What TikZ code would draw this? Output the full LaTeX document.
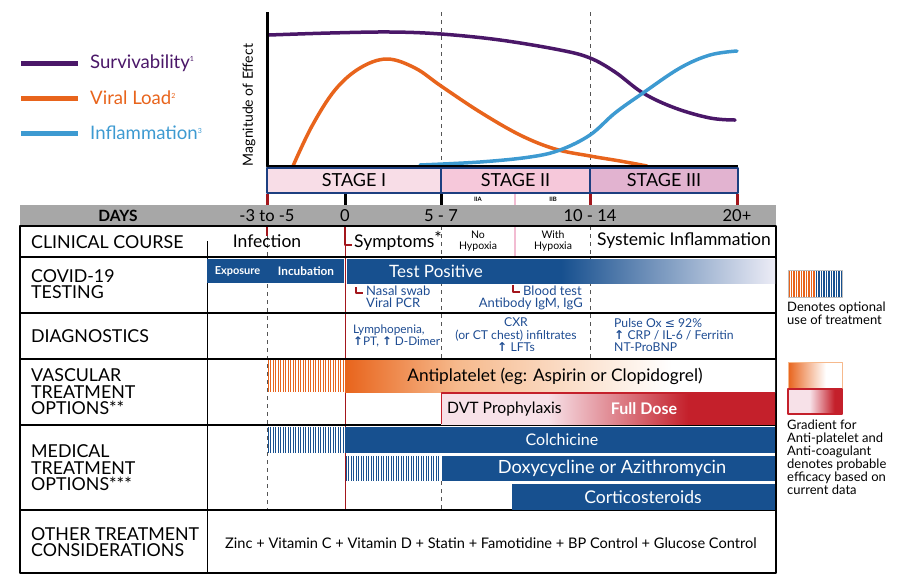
\documentclass[tikz,border=0pt]{standalone}
\usepackage{fontspec}
\setmainfont{Lato}
\newfontfamily\symfont{DejaVu Sans}
\usetikzlibrary{positioning}
\definecolor{survpurple}{HTML}{4A1768}
\definecolor{viralorange}{HTML}{E8641C}
\definecolor{inflblue}{HTML}{3D9AD1}
\definecolor{barblue}{HTML}{17508F}
\definecolor{textblue}{HTML}{1E4C92}
\definecolor{markred}{HTML}{A3161C}
\definecolor{dvtred}{HTML}{C4202B}
\definecolor{dvtpink}{HTML}{F7E1E8}
\definecolor{stageone}{HTML}{F8DDE7}
\definecolor{stagetwo}{HTML}{F6C8DA}
\definecolor{stagethree}{HTML}{E2B3D0}
\definecolor{stageline}{HTML}{1D3F80}
\definecolor{daygray}{HTML}{A7A7A7}
\definecolor{dashgray}{HTML}{555555}
\definecolor{splitpink}{HTML}{F2BCD2}
\definecolor{fadeend}{HTML}{ECECF6}
\definecolor{peach}{HTML}{F6B98C}
\pgfdeclarehorizontalshading{testfade}{100bp}{color(0bp)=(barblue); color(25bp)=(barblue); color(50bp)=(barblue); color(75bp)=(fadeend); color(100bp)=(fadeend)}
\pgfdeclarehorizontalshading{plateletfade}{100bp}{color(0bp)=(viralorange); color(25bp)=(viralorange); color(38bp)=(peach); color(63bp)=(white); color(100bp)=(white)}
\pgfdeclarehorizontalshading{dosefade}{100bp}{color(0bp)=(dvtpink); color(25bp)=(dvtpink); color(41bp)=(dvtpink); color(62bp)=(dvtred); color(100bp)=(dvtred)}
\pgfdeclarehorizontalshading{keyorange}{100bp}{color(0bp)=(viralorange); color(25bp)=(viralorange); color(60bp)=(white); color(100bp)=(white)}
\pgfdeclarehorizontalshading{keyred}{100bp}{color(0bp)=(dvtpink); color(25bp)=(dvtpink); color(45bp)=(dvtpink); color(68bp)=(dvtred); color(100bp)=(dvtred)}
\begin{document}
\begin{tikzpicture}[x=1pt, y=-1pt, line join=round,
  stagebox/.style={draw=stageline, line width=2.2pt},
  stagetext/.style={inner sep=0, font=\fontsize{18}{18}\selectfont},
  daynum/.style={inner sep=0, font=\fontsize{16.5}{16.5}\selectfont},
  rowlabel/.style={anchor=west, align=left, inner sep=0, font=\fontsize{17.8}{16.6}\selectfont},
  course/.style={inner sep=0, font=\fontsize{17.5}{17.5}\selectfont},
  hypoxia/.style={inner sep=0, align=center, font=\fontsize{10.5}{10.5}\selectfont},
  bartext/.style={inner sep=0, text=white, font=\fontsize{16}{16}\selectfont},
  note/.style={inner sep=0, text=textblue, font=\fontsize{12.2}{12.4}\selectfont},
  keytext/.style={anchor=north west, inner sep=0, align=left, font=\fontsize{13}{12.9}\selectfont},
  rowline/.style={line width=2pt},
  phasedash/.style={dashgray, line width=1pt, dash pattern=on 4pt off 4pt},
  markL/.style={markred, line width=2.5pt},
  effect/.style={line width=3.5pt, line cap=round}]
\useasboundingbox (0,0) rectangle (900,587);
\foreach \y/\c/\t/\k/\n in {63/survpurple/Survivability/1/surv, 98/viralorange/Viral Load/2/viral, 133/inflblue/Inflammation/3/infl}{
  \draw[\c, line width=5pt] (21,\y) -- (78,\y);
  \node[anchor=west, inner sep=0, text=\c, font=\fontsize{18.6}{18.6}\selectfont] (\n) at (90,\y) {\t\textsuperscript{\fontsize{7}{7}\selectfont\k}};
}
\node[rotate=90, inner sep=0, font=\fontsize{14}{14}\selectfont] (magn) at (249,105) {Magnitude of Effect};
\draw[phasedash] (441,12) -- (441,166) (590,12) -- (590,166);
\draw[effect, survpurple] plot[smooth, tension=0.6] coordinates {(269,35) (330,33) (390,32) (441,34) (500,40) (560,50) (590,58) (615,72) (643,93) (675,108) (710,118) (735,120)};
\draw[effect, viralorange] plot[smooth, tension=0.6] coordinates {(293,166) (312,126) (335,90) (360,68) (387,59) (415,68) (441,86) (480,112) (520,135) (555,149) (590,156) (620,161) (647,166)};
\draw[effect, inflblue] plot[smooth, tension=0.6] coordinates {(420,165) (480,162) (530,157) (560,150) (590,135) (615,113) (643,93) (680,68) (710,55) (737,51)};
\draw[line width=3pt] (267,12) -- (267,166) -- (738,166);
\foreach \xa/\xb/\fc/\t/\n in {267/441/stageone/I/s1, 441/590/stagetwo/II/s2, 590/738/stagethree/III/s3}{
  \draw[stagebox, fill=\fc] (\xa,168) rectangle (\xb,193);
  \node[stagetext] (\n) at ({(\xa+\xb)/2},180.5) {STAGE \t};
}
\foreach \x/\c in {267/markred, 345/black, 441/black, 590/markred, 737/markred}
  \draw[\c, line width=3pt] (\x,194) -- (\x,205);
\node[inner sep=0, font=\bfseries\fontsize{6}{6}\selectfont] (iia) at (478,199.5) {IIA};
\node[inner sep=0, font=\bfseries\fontsize{6}{6}\selectfont] (iib) at (553,199.5) {IIB};
\draw[splitpink, line width=2pt] (515,194) -- (515,205) (515,226) -- (515,257);
\fill[daygray] (20,205) rectangle (776,226);
\node[inner sep=0, font=\bfseries\fontsize{15.5}{15.5}\selectfont] (days) at (118,216) {DAYS};
\foreach \x/\t/\n in {267/{-3 to -5}/dminus, 345/0/dzero, 441/{5 - 7}/dfive, 590/{10 - 14}/dten, 737/{20+}/dtwenty}
  \node[daynum] (\n) at (\x,216) {\t};
\draw[phasedash] (267,236) -- (267,510) (441,226) -- (441,359) (441,481) -- (441,510) (590,226) -- (590,359);
\draw[markred, line width=2.5pt] (267,226) -- (267,236);
\draw[markL] (345,226) |- (352,245);
\draw[markred, line width=0.8pt] (345,245) -- (345,510);
\draw[line width=1pt] (207,241) -- (207,573);
\foreach \y in {257,313,359,425,510} \draw[rowline] (20,\y) -- (776,\y);
\draw[rowline] (20,226) rectangle (776,573);
\node[rowlabel] (clin) at (31,242) {CLINICAL COURSE};
\node[course] (infect) at (267,241) {Infection};
\node[course, anchor=west] (sympt) at (354,241) {Symptoms\raisebox{3pt}{*}};
\node[hypoxia] (nohyp) at (478,241) {No\\Hypoxia};
\node[hypoxia] (withhyp) at (553,241) {With\\Hypoxia};
\node[course] (system) at (684,241) {Systemic Inflammation};
\node[rowlabel] (testing) at (31,284) {COVID-19\\TESTING};
\fill[barblue] (207,259) rectangle (344,283);
\node[inner sep=0, text=white, font=\bfseries\fontsize{11}{11}\selectfont] (expo) at (237.5,271) {Exposure};
\node[inner sep=0, text=white, font=\bfseries\fontsize{11.8}{11.8}\selectfont] (incub) at (306,271) {Incubation};
\shade[shading=testfade] (347,259) rectangle (775,283);
\node[bartext, font=\fontsize{17}{17}\selectfont] (testpos) at (436,271) {Test Positive};
\draw[markL] (356,287) |- (363,293);
\node[note, anchor=north west, align=left, font=\fontsize{13}{12}\selectfont] (nasal) at (366,286) {Nasal swab\\Viral PCR};
\draw[markL] (513,285) |- (520,292);
\node[note, anchor=west, font=\fontsize{13}{13}\selectfont] (blood) at (523,291) {Blood test};
\node[note, anchor=east, font=\fontsize{13}{13}\selectfont] (antib) at (583,304) {Antibody IgM, IgG};
\node[rowlabel] (diag) at (31,336) {DIAGNOSTICS};
\node[note, anchor=west, align=left, font=\fontsize{11.8}{12}\selectfont] (lympho) at (353,336) {Lymphopenia,\\{\symfont\bfseries↑}PT, {\symfont\bfseries↑} D-Dimer};
\node[note, align=center] (cxr) at (516,335) {CXR\\(or CT chest) infiltrates\\{\symfont\bfseries↑} LFTs};
\node[note, anchor=west, align=left] (pulse) at (614,335) {Pulse Ox {\symfont≤} 92\%\\{\symfont\bfseries↑} CRP / IL-6 / Ferritin\\NT-ProBNP};
\node[rowlabel] (vasc) at (31,392) {VASCULAR\\TREATMENT\\OPTIONS**};
\foreach \x in {268.2,270.7,...,345} \draw[viralorange, line width=1.2pt] (\x,360) -- (\x,392);
\shade[shading=plateletfade] (345,360) rectangle (775,392);
\node[bartext, text=black, font=\fontsize{17.3}{17.3}\selectfont] (platelet) at (555,376) {Antiplatelet (eg: Aspirin or Clopidogrel)};
\shade[shading=dosefade] (441,393) rectangle (775,424);
\draw[dvtred, line width=1.5pt] (775,393) -- (441.7,393) -- (441.7,424);
\node[bartext, text=black, anchor=west, font=\fontsize{15.7}{15.7}\selectfont] (dvt) at (447,409) {DVT Prophylaxis};
\node[bartext, font=\bfseries\fontsize{16}{16}\selectfont] (fulldose) at (644,409) {Full Dose};
\node[rowlabel] (medic) at (31,468) {MEDICAL\\TREATMENT\\OPTIONS***};
\foreach \x in {268.2,270.7,...,345} \draw[barblue, line width=1.2pt] (\x,427) -- (\x,453);
\fill[barblue] (345,427) rectangle (775,453);
\node[bartext] (colch) at (562,440) {Colchicine};
\foreach \x in {346.2,348.7,...,441} \draw[barblue, line width=1.2pt] (\x,456) -- (\x,481);
\fill[barblue] (442,456) rectangle (775,481);
\node[bartext, font=\fontsize{18.2}{18.2}\selectfont] (doxy) at (612,468.5) {Doxycycline or Azithromycin};
\fill[barblue] (512,484) rectangle (775,510);
\node[bartext, font=\fontsize{17.5}{17.5}\selectfont] (cortico) at (643,497) {Corticosteroids};
\node[rowlabel] (other) at (31,542) {OTHER TREATMENT\\CONSIDERATIONS};
\node[inner sep=0, font=\fontsize{14.6}{14.6}\selectfont] (zinc) at (491,543) {Zinc + Vitamin C + Vitamin D + Statin + Famotidine + BP Control + Glucose Control};
\foreach \x in {789,791.5,...,815} \draw[viralorange, line width=1.2pt] (\x,270) -- (\x,297);
\foreach \x in {816.5,819,...,842} \draw[barblue, line width=1.2pt] (\x,270) -- (\x,297);
\draw[black!25, line width=0.6pt] (788,270) rectangle (842,297);
\node[keytext] (optional) at (787,302) {Denotes optional\\use of treatment};
\shade[shading=keyorange, draw=peach, line width=0.8pt] (788,362) rectangle (842,388);
\shade[shading=keyred, draw=dvtred, line width=1.5pt] (788,389) rectangle (842,414);
\node[keytext] (gradient) at (787,420) {Gradient for\\Anti-platelet and\\Anti-coagulant\\denotes probable\\efficacy based on\\current data};
\end{tikzpicture}
\end{document}
